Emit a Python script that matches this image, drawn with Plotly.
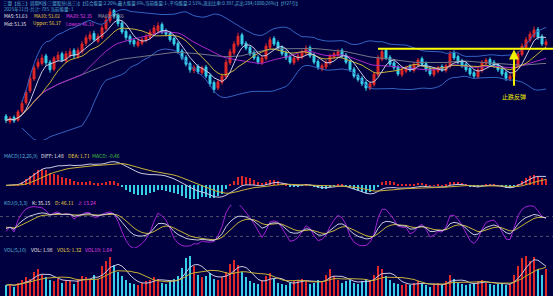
import plotly.graph_objects as go
import pandas as pd
import numpy as np

W, H = 553, 296

opens = [41.2,40.4,41.0,40.6,41.9,43.1,44.8,46.5,48.3,48.7,49.8,48.9,47.9,49.3,50.1,49.1,49.8,50.6,49.7,50.4,
         51.6,52.2,53.0,51.9,52.5,53.7,54.8,56.3,55.6,54.5,53.3,52.6,52.0,51.3,51.6,52.0,52.4,53.0,53.4,54.3,
         53.4,53.0,52.3,51.6,50.5,49.6,48.7,47.7,48.3,47.4,48.2,47.0,46.0,45.2,46.0,46.8,48.8,50.2,51.4,52.8,
         51.6,51.0,50.3,49.6,48.8,49.4,51.0,52.3,51.7,51.0,50.3,49.7,48.8,49.3,49.6,50.2,51.0,49.9,49.0,47.9,
         48.2,48.8,49.6,49.9,50.6,49.9,49.0,47.9,47.0,46.6,46.0,45.1,45.7,47.1,49.3,50.6,49.6,48.8,48.2,47.1,
         47.6,48.3,47.7,48.5,49.4,48.7,48.0,47.1,47.6,48.3,47.7,48.3,50.3,49.7,49.1,48.6,48.0,47.4,46.8,47.7,
         48.7,49.3,48.9,48.5,48.0,47.4,46.5,46.8,48.3,50.0,51.0,52.0,52.6,53.6,52.6,51.4]
closes = [40.6,40.9,40.5,41.8,43.0,44.6,46.6,48.1,48.9,49.5,48.8,47.8,49.5,49.9,49.2,50.1,50.4,49.8,50.6,51.5,
          52.4,52.8,52.1,52.6,53.8,54.9,56.1,55.5,54.4,53.2,52.4,51.8,51.5,51.8,52.1,52.6,53.2,53.8,54.1,53.2,
          52.9,52.1,51.5,50.4,49.5,48.6,47.8,48.1,47.5,48.1,46.9,45.8,45.0,46.1,46.9,48.9,50.4,51.5,52.6,51.5,
          50.9,50.1,49.5,48.9,49.5,51.2,52.1,51.5,50.9,50.1,49.5,48.9,49.5,49.8,50.4,50.9,49.8,48.9,48.1,48.4,
          48.9,49.8,50.1,50.4,49.8,48.9,47.8,46.9,46.4,45.8,45.2,45.8,47.2,49.5,50.4,49.5,48.6,48.1,47.2,47.8,
          48.1,47.8,48.6,49.2,48.6,47.8,47.2,47.8,48.1,47.8,48.4,50.1,49.5,48.9,48.4,47.8,47.2,46.9,47.8,48.9,
          49.2,48.6,48.4,47.8,47.2,46.6,46.9,48.4,50.1,51.2,52.1,52.9,53.5,52.4,51.5,51.8]
highs = [41.5,41.2,41.3,42.1,43.4,44.9,47.0,48.5,49.4,50.0,50.1,49.2,49.8,50.4,50.4,50.5,50.9,50.9,51.0,51.9,
         52.8,53.3,53.4,53.0,54.2,55.4,56.6,56.5,55.9,54.8,53.6,52.9,52.3,52.1,52.4,52.9,53.6,54.2,54.6,54.6,
         53.7,53.3,52.6,51.9,50.8,49.9,49.0,48.5,48.6,48.4,48.5,47.3,46.3,46.4,47.3,49.3,50.8,51.9,53.1,53.1,
         51.9,51.3,50.6,49.9,49.8,51.6,52.5,52.6,52.0,51.3,50.6,50.0,49.8,50.1,50.7,51.3,51.3,50.2,49.3,48.7,
         49.2,50.1,50.4,50.8,50.9,50.2,49.3,48.2,47.3,46.9,46.3,46.1,47.5,49.9,50.9,50.9,49.9,49.1,48.5,48.1,
         48.4,48.6,48.9,49.5,49.7,49.0,48.3,48.1,48.4,48.6,48.7,50.5,50.6,50.0,49.4,48.9,48.3,47.7,48.1,49.2,
         49.5,49.6,49.2,48.8,48.3,47.7,47.3,48.8,50.5,51.6,52.5,53.3,54.0,53.9,52.9,52.2]
lows = [40.2,40.1,40.2,40.4,41.6,42.8,44.5,46.2,47.9,48.4,48.4,47.4,47.6,49.0,48.9,48.8,49.5,49.4,49.4,50.1,
        51.2,51.9,51.8,51.6,52.2,53.4,54.5,55.1,54.0,52.9,52.0,51.4,51.1,51.0,51.3,51.7,52.1,52.7,53.1,52.9,
        52.6,51.8,51.2,50.1,49.2,48.3,47.4,47.3,47.2,47.1,46.6,45.4,44.5,44.9,45.7,46.5,48.5,49.9,51.1,51.2,
        50.6,49.8,49.2,48.6,48.5,49.1,50.7,51.2,50.6,49.8,49.2,48.6,48.5,49.0,49.3,49.9,49.5,48.6,47.8,47.6,
        47.9,48.5,49.3,49.6,49.5,48.6,47.5,46.6,46.1,45.5,44.8,44.9,45.4,46.8,49.0,49.2,48.3,47.8,46.9,46.8,
        47.3,47.5,47.4,48.2,48.3,47.5,46.9,46.8,47.3,47.5,47.4,48.0,49.2,48.6,48.1,47.5,46.9,46.5,46.5,47.4,
        48.4,48.3,48.1,47.5,46.9,46.2,46.2,46.5,48.0,49.7,50.7,51.7,52.3,52.1,51.2,51.1]
volumes = [0.8,0.9,0.7,1.0,1.2,1.4,1.3,
           1.8,2.0,1.6,1.4,
           1.2,1.1,1.3,1.0,1.2,1.1,0.9,1.3,1.5,1.4,1.2,1.6,1.3,
           2.2,2.6,2.9,2.3,1.8,1.5,
           1.2,1.0,0.9,0.8,1.0,1.1,1.2,1.4,1.3,1.0,0.9,1.1,1.3,1.5,
           2.1,2.8,3.0,2.2,1.6,
           1.4,1.5,1.7,1.3,1.2,1.4,1.8,
           2.4,2.7,2.3,1.8,1.4,
           1.1,1.0,0.9,1.2,1.5,1.7,1.3,1.0,0.9,0.8,1.0,1.1,1.2,1.3,1.1,0.9,1.0,1.2,1.1,
           1.6,2.0,1.5,1.2,1.0,
           1.1,1.2,1.0,0.9,1.1,1.3,1.2,1.6,
           2.2,2.0,1.5,1.2,
           1.0,0.9,0.8,0.9,0.8,1.0,1.1,0.9,0.8,0.7,0.9,1.0,0.8,1.1,1.6,1.3,1.0,0.9,0.8,0.9,
           1.0,1.1,1.2,1.0,0.9,0.8,0.9,1.0,0.8,0.9,
           1.6,2.2,2.8,3.0,2.6,2.9,2.0,1.6,1.98]

support_level = 50.8
support_start = 93
arrow_index = 127
arrow_tail = 45.3
note_text = "止跌反弹"

header1 = "三盟【高三】周期K线:三盟股份(高三)】【综合能量:2.20%,最大能量:6%,当前能量:1-,平均能量:2.51%,流出比率:0.397,买出:284/1080(26%)】【H27引】"
header2 = "2025年11月-共计: 785 当前能量: 1"
ma_labels = [("MA5: 51.63", "#e8e8e8", 3), ("MA10: 53.02", "#e8d040", 33), ("MA20: 52.35", "#e040e0", 65), ("MA60: 47.66", "#a8a8a8", 97)]
boll_labels = [("Mid: 51.35", "#e8e8e8", 3), ("Upper: 56.37", "#e8d040", 32), ("Lower: 46.33", "#e040e0", 65)]
macd_labels = [("MACD(12,26,9)", "#58b4d8", 3), ("DIFF: 1.48", "#e8e8e8", 40), ("DEA: 1.71", "#e8d040", 67), ("MACD: -0.46", "#40c040", 91)]
kdj_labels = [("KDJ(9,3,3)", "#58b4d8", 3), ("K: 35.15", "#e8e8e8", 31), ("D: 46.11", "#e8d040", 54), ("J: 13.24", "#e040e0", 77)]
vol_labels = [("VOL(5,10)", "#58b4d8", 3), ("VOL: 1.98", "#e8e8e8", 30), ("VOL5: 1.32", "#e8d040", 56), ("VOL10: 1.64", "#e040e0", 84)]

n = min(len(opens), len(closes), len(highs), len(lows), len(volumes))
opens, closes, highs, lows, volumes = opens[:n], closes[:n], highs[:n], lows[:n], volumes[:n]
x = list(range(n))
s = pd.Series(closes)

ma5 = s.rolling(5, min_periods=1).mean()
ma10 = s.rolling(10, min_periods=1).mean()
ma20 = s.rolling(20, min_periods=1).mean()
ma60 = s.rolling(60, min_periods=1).mean()
mid = s.rolling(20, min_periods=5).mean()
sd = s.rolling(20, min_periods=5).std(ddof=0)
upper = mid + 2 * sd
lower = mid - 2 * sd

ema12 = s.ewm(span=12, adjust=False).mean()
ema26 = s.ewm(span=26, adjust=False).mean()
diff = ema12 - ema26
dea = diff.ewm(span=9, adjust=False).mean()
macd = 2 * (diff - dea)

hi9 = pd.Series(highs).rolling(9, min_periods=1).max()
lo9 = pd.Series(lows).rolling(9, min_periods=1).min()
rsv = ((s - lo9) / (hi9 - lo9) * 100).fillna(50)
K, D = [], []
k, d = 50.0, 50.0
for r in rsv:
    k = 2 / 3 * k + r / 3
    d = 2 / 3 * d + k / 3
    K.append(k); D.append(d)
K = np.array(K); D = np.array(D); J = 3 * K - 2 * D

v = pd.Series(volumes)
vma5 = v.rolling(5, min_periods=1).mean()
vma10 = v.rolling(10, min_periods=1).mean()

RED = "#e02828"
CYAN = "#38d0e8"
up = [c >= o for o, c in zip(opens, closes)]
bar_col = [RED if u else CYAN for u in up]
macd_col = [RED if m >= 0 else CYAN for m in macd]

def py(px):
    return 1 - px / H

fig = go.Figure()
# main panel
fig.add_trace(go.Scatter(x=x, y=upper, mode="lines", line=dict(color="#3262c0", width=1), hoverinfo="skip"))
fig.add_trace(go.Scatter(x=x, y=lower, mode="lines", line=dict(color="#3262c0", width=1), hoverinfo="skip"))
fig.add_trace(go.Scatter(x=x, y=ma60, mode="lines", line=dict(color="#707888", width=1)))
fig.add_trace(go.Scatter(x=x, y=ma20, mode="lines", line=dict(color="#a828c8", width=1)))
fig.add_trace(go.Scatter(x=x, y=ma10, mode="lines", line=dict(color="#c8b038", width=1)))
fig.add_trace(go.Scatter(x=x, y=ma5, mode="lines", line=dict(color="#c8c8e0", width=1)))
fig.add_trace(go.Candlestick(x=x, open=opens, high=highs, low=lows, close=closes,
                             increasing=dict(line=dict(color=RED, width=1), fillcolor=RED),
                             decreasing=dict(line=dict(color=CYAN, width=1), fillcolor=CYAN),
                             whiskerwidth=0))
fig.add_trace(go.Scatter(x=[support_start, n + 0.75], y=[support_level, support_level], mode="lines",
                         line=dict(color="#ffff00", width=2)))

# MACD
fig.add_trace(go.Bar(x=x, y=macd, marker=dict(color=macd_col, line=dict(width=0)), width=0.45, yaxis="y2"))
fig.add_trace(go.Scatter(x=x, y=diff, mode="lines", line=dict(color="#c8c8e0", width=1), yaxis="y2"))
fig.add_trace(go.Scatter(x=x, y=dea, mode="lines", line=dict(color="#c8b038", width=1), yaxis="y2"))

# KDJ
for lvl in (20, 80):
    fig.add_trace(go.Scatter(x=[-1.5, n + 0.75], y=[lvl, lvl], mode="lines",
                             line=dict(color="#505068", width=1, dash="dot"), yaxis="y3"))
fig.add_trace(go.Scatter(x=x, y=J, mode="lines", line=dict(color="#a020d0", width=1), yaxis="y3"))
fig.add_trace(go.Scatter(x=x, y=D, mode="lines", line=dict(color="#c8b038", width=1), yaxis="y3"))
fig.add_trace(go.Scatter(x=x, y=K, mode="lines", line=dict(color="#c8c8e0", width=1), yaxis="y3"))

# VOL
fig.add_trace(go.Bar(x=x, y=volumes, marker=dict(color=bar_col, line=dict(width=0)), width=0.5, yaxis="y4"))
fig.add_trace(go.Scatter(x=x, y=vma5, mode="lines", line=dict(color="#c8c8e0", width=1), yaxis="y4"))
fig.add_trace(go.Scatter(x=x, y=vma10, mode="lines", line=dict(color="#c8b038", width=1), yaxis="y4"))

mrange = max(abs(diff).max(), abs(dea).max(), abs(macd).max()) * 1.1

ax_common = dict(visible=False, showgrid=False, zeroline=False, fixedrange=True)
fig.update_layout(
    width=W, height=H, margin=dict(l=0, r=0, t=0, b=0),
    paper_bgcolor="#000040", plot_bgcolor="#000040",
    showlegend=False, bargap=0,
    xaxis=dict(range=[-1.5, n + 0.75], domain=[0, 1], rangeslider=dict(visible=False), **ax_common),
    yaxis=dict(domain=[py(140), py(0)], range=[37.78, 57.78], **ax_common),
    yaxis2=dict(domain=[py(201), py(158)], range=[-mrange * 0.6, mrange * 1.05], anchor="x", **ax_common),
    yaxis3=dict(domain=[py(248), py(205)], range=[-15, 115], anchor="x", **ax_common),
    yaxis4=dict(domain=[py(296), py(253)], range=[0, 3.2], anchor="x", **ax_common),
)

FONT = "Noto Sans CJK SC"
ann = []
def label(text, color, px, pyy, size=5):
    ann.append(dict(text=text, x=px / W, y=py(pyy), xref="paper", yref="paper", xanchor="left",
                    yanchor="middle", showarrow=False, borderpad=0,
                    font=dict(family=FONT, size=size, color=color)))

label(header1, "#58b4d8", 2, 4, 4.5)
label(header2, "#58b4d8", 3, 10, 4.6)
for t, c, px in ma_labels:
    label(t, c, px, 16.5, 4.7)
for t, c, px in boll_labels:
    label(t, c, px, 23.5, 4.7)
for t, c, px in macd_labels:
    label(t, c, px, 155)
for t, c, px in kdj_labels:
    label(t, c, px, 202)
for t, c, px in vol_labels:
    label(t, c, px, 249)

ann.append(dict(x=arrow_index, y=support_level - 0.1, ax=arrow_index, ay=arrow_tail, xref="x", yref="y",
                axref="x", ayref="y", text="", showarrow=True, arrowhead=2, arrowsize=1, arrowwidth=2,
                arrowcolor="#f0f000"))
ann.append(dict(x=arrow_index, y=arrow_tail - 0.4, xref="x", yref="y", text=note_text, showarrow=False,
                xanchor="center", yanchor="top", font=dict(family=FONT, size=6, color="#f0f000")))
fig.update_layout(annotations=ann)

fig.write_html("out.html")
